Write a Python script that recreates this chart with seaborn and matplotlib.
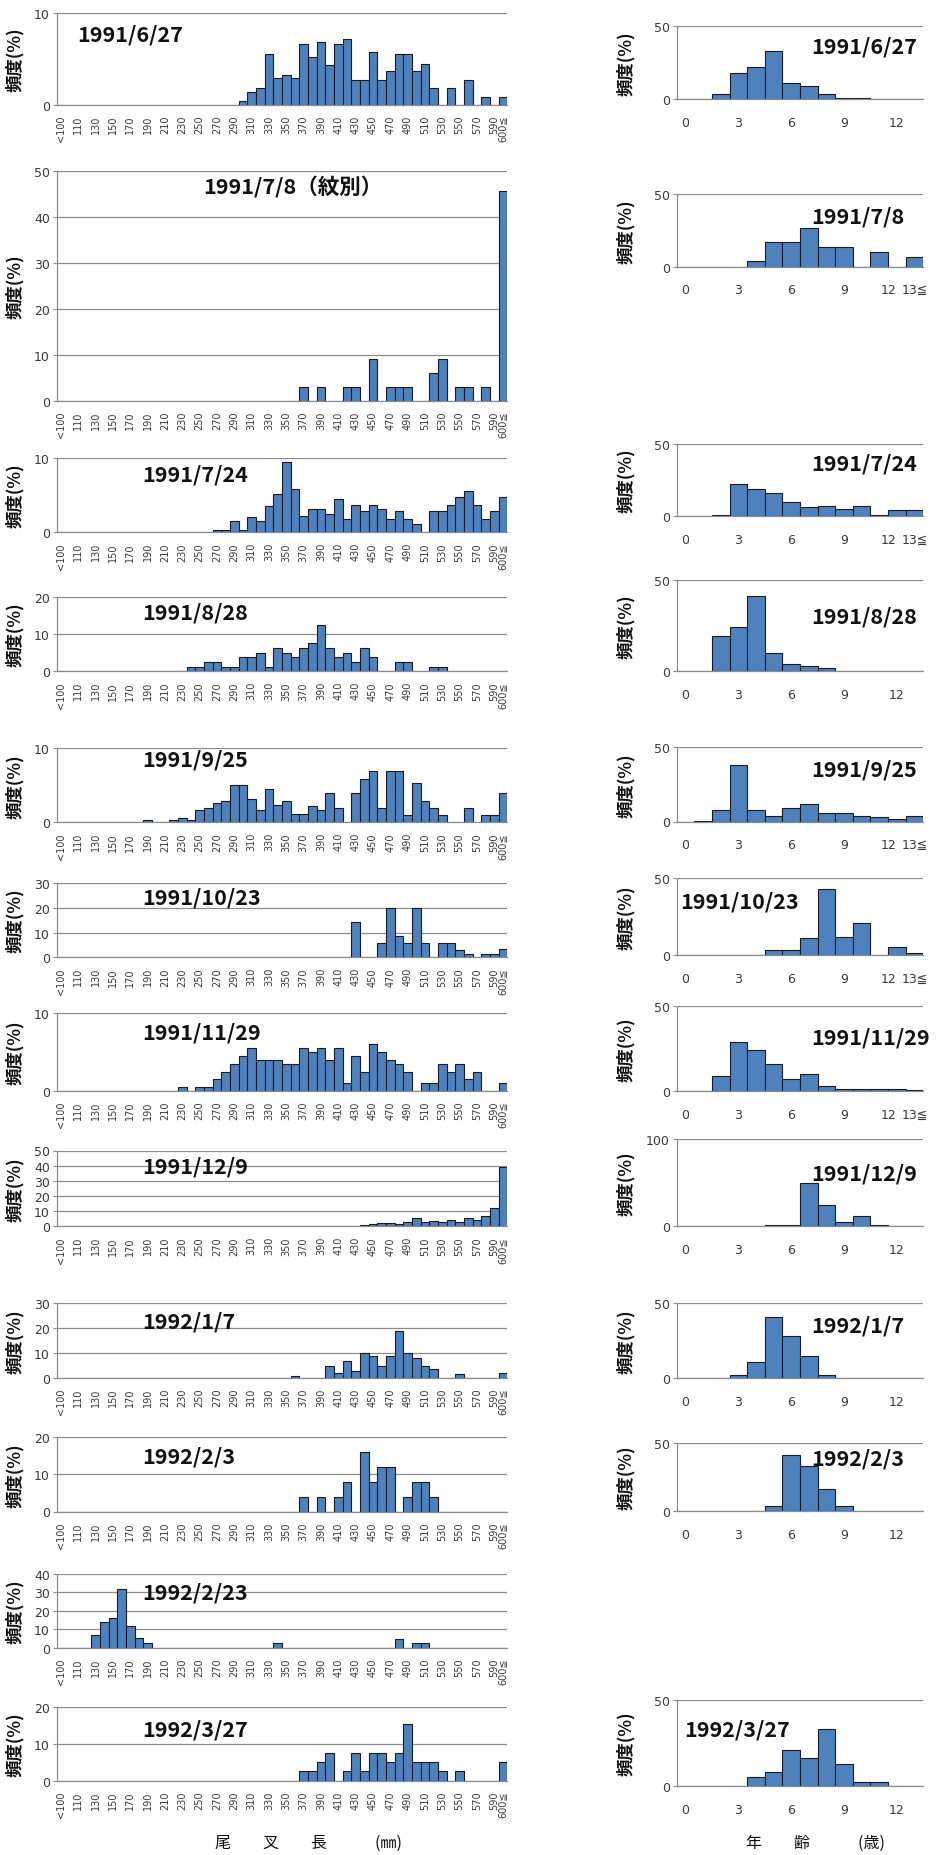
import numpy as np
import pandas as pd
import matplotlib
matplotlib.use("Agg")
import matplotlib.pyplot as plt
import seaborn as sns

# ---------------- categories ----------------
LENGTH_BINS = ["<100", "100", "110", "120", "130", "140", "150", "160", "170", "180",
               "190", "200", "210", "220", "230", "240", "250", "260", "270", "280",
               "290", "300", "310", "320", "330", "340", "350", "360", "370", "380",
               "390", "400", "410", "420", "430", "440", "450", "460", "470", "480",
               "490", "500", "510", "520", "530", "540", "550", "560", "570", "580",
               "590", "600≦"]
AGE_BINS = ["0", "1", "2", "3", "4", "5", "6", "7", "8", "9", "10", "11", "12", "13"]

# ---------------- fork length frequency (%) ----------------
LEN_DATES = ["1991/6/27", "1991/7/8（紋別）", "1991/7/24", "1991/8/28", "1991/9/25",
             "1991/10/23", "1991/11/29", "1991/12/9", "1992/1/7", "1992/2/3",
             "1992/2/23", "1992/3/27"]

LEN_910627 = [0, 0, 0, 0, 0, 0, 0, 0, 0, 0, 0, 0, 0,
              0, 0, 0, 0, 0, 0, 0, 0, 0.4, 1.4, 1.8, 5.5, 2.9,
              3.3, 2.9, 6.6, 5.2, 6.8, 4.3, 6.6, 7.2, 2.7, 2.7, 5.8, 2.7, 3.7,
              5.5, 5.5, 3.7, 4.5, 1.8, 0, 1.8, 0, 2.7, 0, 0.9, 0, 0.9]
LEN_910708 = [0, 0, 0, 0, 0, 0, 0, 0, 0, 0, 0, 0, 0,
              0, 0, 0, 0, 0, 0, 0, 0, 0, 0, 0, 0, 0,
              0, 0, 3.0, 0, 3.0, 0, 0, 3.0, 3.0, 0, 9.1, 0, 3.0,
              3.0, 3.0, 0, 0, 6.1, 9.1, 0, 3.0, 3.0, 0, 3.0, 0, 45.5]
LEN_910724 = [0, 0, 0, 0, 0, 0, 0, 0, 0, 0, 0, 0, 0,
              0, 0, 0, 0, 0, 0.3, 0.3, 1.5, 0.3, 2.0, 1.5, 3.5, 5.2,
              9.5, 5.8, 2.2, 3.2, 3.2, 2.4, 4.5, 1.8, 3.7, 2.8, 3.7, 3.1, 1.8,
              2.8, 1.8, 1.1, 0, 2.8, 2.8, 3.7, 4.7, 5.5, 3.7, 1.8, 2.8, 4.7]
LEN_910828 = [0, 0, 0, 0, 0, 0, 0, 0, 0, 0, 0, 0, 0,
              0, 0, 1.25, 1.25, 2.5, 2.5, 1.25, 1.25, 3.75, 3.75, 5.0, 1.25, 6.25,
              5.0, 3.75, 6.25, 7.5, 12.5, 6.25, 3.75, 5.0, 2.5, 6.25, 3.75, 0, 0,
              2.5, 2.5, 0, 0, 1.25, 1.25, 0, 0, 0, 0, 0, 0, 0]
LEN_910925 = [0, 0, 0, 0, 0, 0, 0, 0, 0, 0, 0.3, 0, 0,
              0.3, 0.6, 0.3, 1.6, 1.9, 2.6, 2.9, 5.0, 5.0, 3.2, 1.6, 4.5, 2.3,
              2.9, 1.1, 1.1, 2.2, 1.6, 4.0, 1.9, 0, 4.0, 5.9, 7.0, 1.9, 7.0,
              7.0, 1.0, 5.3, 2.9, 1.9, 1.0, 0, 0, 1.9, 0, 1.0, 1.0, 3.9]
LEN_911023 = [0, 0, 0, 0, 0, 0, 0, 0, 0, 0, 0, 0, 0,
              0, 0, 0, 0, 0, 0, 0, 0, 0, 0, 0, 0, 0,
              0, 0, 0, 0, 0, 0, 0, 0, 14.3, 0, 0, 5.7, 20.0,
              8.6, 5.7, 20.0, 5.7, 0, 5.7, 5.7, 2.9, 1.4, 0, 1.4, 1.4, 3.4]
LEN_911129 = [0, 0, 0, 0, 0, 0, 0, 0, 0, 0, 0, 0, 0,
              0, 0.5, 0, 0.5, 0.5, 1.5, 2.5, 3.5, 4.5, 5.5, 4.0, 4.0, 4.0,
              3.5, 3.5, 5.5, 5.0, 5.5, 4.0, 5.5, 1.0, 4.5, 2.5, 6.0, 5.0, 4.0,
              3.5, 2.5, 0, 1.0, 1.0, 3.5, 2.5, 3.5, 1.5, 2.5, 0, 0, 1.0]
LEN_911209 = [0, 0, 0, 0, 0, 0, 0, 0, 0, 0, 0, 0, 0,
              0, 0, 0, 0, 0, 0, 0, 0, 0, 0, 0, 0, 0,
              0, 0, 0, 0, 0, 0, 0, 0, 0, 1.0, 1.5, 2.0, 2.5,
              1.5, 3.0, 5.5, 3.0, 3.5, 3.0, 4.0, 3.0, 5.5, 4.0, 6.5, 12.0, 39.0]
LEN_920107 = [0, 0, 0, 0, 0, 0, 0, 0, 0, 0, 0, 0, 0,
              0, 0, 0, 0, 0, 0, 0, 0, 0, 0, 0, 0, 0,
              0, 0.7, 0, 0, 0, 5.0, 2.0, 7.0, 3.0, 10.0, 9.0, 5.0, 9.0,
              19.0, 10.0, 8.0, 5.0, 3.5, 0, 0, 1.5, 0, 0, 0, 0, 2.0]
LEN_920203 = [0, 0, 0, 0, 0, 0, 0, 0, 0, 0, 0, 0, 0,
              0, 0, 0, 0, 0, 0, 0, 0, 0, 0, 0, 0, 0,
              0, 0, 4.0, 0, 4.0, 0, 4.0, 8.0, 0, 16.0, 8.0, 12.0, 12.0,
              0, 4.0, 8.0, 8.0, 4.0, 0, 0, 0, 0, 0, 0, 0, 0]
LEN_920223 = [0, 0, 0, 0, 7.0, 14.0, 16.0, 32.0, 12.0, 5.0, 2.5, 0, 0,
              0, 0, 0, 0, 0, 0, 0, 0, 0, 0, 0, 0, 2.5,
              0, 0, 0, 0, 0, 0, 0, 0, 0, 0, 0, 0, 0,
              4.5, 0, 2.5, 2.5, 0, 0, 0, 0, 0, 0, 0, 0, 0]
LEN_920327 = [0, 0, 0, 0, 0, 0, 0, 0, 0, 0, 0, 0, 0,
              0, 0, 0, 0, 0, 0, 0, 0, 0, 0, 0, 0, 0,
              0, 0, 2.6, 2.6, 5.1, 7.7, 0, 2.6, 7.7, 2.6, 7.7, 7.7, 5.1,
              7.7, 15.4, 5.1, 5.1, 5.1, 2.6, 0, 2.6, 0, 0, 0, 0, 5.1]

LEN_VALUES = [LEN_910627, LEN_910708, LEN_910724, LEN_910828, LEN_910925, LEN_911023,
              LEN_911129, LEN_911209, LEN_920107, LEN_920203, LEN_920223, LEN_920327]
LEN_YMAX = [10, 50, 10, 20, 10, 30, 10, 50, 30, 20, 40, 20]

# ---------------- age frequency (%) ----------------
AGE_DATES = ["1991/6/27", "1991/7/8", "1991/7/24", "1991/8/28", "1991/9/25",
             "1991/10/23", "1991/11/29", "1991/12/9", "1992/1/7", "1992/2/3",
             "1992/3/27"]
AGE_910627 = [0, 0, 3.4, 18.0, 22.0, 32.5, 10.7, 8.6, 3.4, 0.7, 0.7, 0, 0, 0]
AGE_910708 = [0, 0, 0, 0, 3.7, 16.7, 16.7, 26.4, 13.5, 13.5, 0, 10.0, 0, 6.7]
AGE_910724 = [0, 0, 0.5, 22.0, 19.0, 16.0, 10.0, 6.0, 7.0, 5.0, 7.0, 1.0, 4.0, 4.0]
AGE_910828 = [0, 0, 19.0, 24.0, 41.0, 10.0, 4.0, 2.5, 1.5, 0, 0, 0, 0, 0]
AGE_910925 = [0, 0.5, 8.0, 38.0, 8.0, 4.0, 9.0, 12.0, 6.0, 6.0, 4.0, 3.0, 2.0, 4.0]
AGE_911023 = [0, 0, 0, 0, 0, 3.0, 3.0, 11.0, 43.0, 12.0, 21.0, 0, 5.0, 1.5]
AGE_911129 = [0, 0, 9.0, 29.0, 24.0, 16.0, 7.0, 10.0, 3.0, 1.0, 1.0, 1.0, 1.0, 0.5]
AGE_911209 = [0, 0, 0, 0, 0, 1.0, 1.0, 50.0, 24.0, 5.0, 12.0, 1.0, 0, 0]
AGE_920107 = [0, 0, 0, 2.0, 11.0, 41.0, 28.0, 15.0, 2.0, 0, 0, 0, 0, 0]
AGE_920203 = [0, 0, 0, 0, 0, 4.0, 41.0, 33.0, 16.0, 4.0, 0, 0, 0, 0]
AGE_920327 = [0, 0, 0, 0, 5.0, 8.0, 21.0, 16.0, 33.0, 13.0, 2.5, 2.5, 0, 0]

AGE_VALUES = [AGE_910627, AGE_910708, AGE_910724, AGE_910828, AGE_910925, AGE_911023,
              AGE_911129, AGE_911209, AGE_920107, AGE_920203, AGE_920327]
AGE_YMAX = [50, 50, 50, 50, 50, 50, 50, 100, 50, 50, 50]
AGE_PLUS_LABEL = [False, True, True, False, True, True, True, False, False, False, False]

# ---------------- layout (pixels) ----------------
W, H = 937, 1856
LEFT_X = (56.7, 507.3)
RIGHT_X = (676.7, 923.3)
LEFT_ROWS = [(14, 106), (171.7, 401.7), (459, 533.3), (597.7, 672.3), (749.3, 823.3),
             (884, 958.3), (1014, 1092), (1151.5, 1227.3), (1304, 1379), (1438, 1512.5),
             (1575, 1648.6), (1708, 1782)]
LEFT_TITLE_POS = [(0.045, 0.77), (0.325, 0.93), (0.19, 0.78), (0.19, 0.79), (0.19, 0.855),
                  (0.19, 0.81), (0.19, 0.76), (0.19, 0.80), (0.19, 0.76), (0.19, 0.75),
                  (0.19, 0.75), (0.19, 0.70)]
RIGHT_ROWS = [(26.7, 100), (195, 267.7), (445, 517), (581, 672), (748, 822.5), (879, 956),
              (1007, 1092), (1140, 1227), (1304, 1379), (1444, 1512), (1701, 1787)]
RIGHT_TITLE_POS = [(0.545, 0.72), (0.545, 0.70), (0.545, 0.74), (0.545, 0.60), (0.545, 0.70),
                   (0.013, 0.70), (0.545, 0.64), (0.545, 0.61), (0.545, 0.71), (0.545, 0.78),
                   (0.03, 0.66)]

BAR_COLOR = "#4F81BD"
BAR_EDGE = "#141C2C"
GRID = "#8C8C8C"
TICK_TXT = "#3A3A3A"
JP = ["Noto Sans CJK JP", "DejaVu Sans"]

sns.set_theme(style="white")
plt.rcParams["font.family"] = ["DejaVu Sans", "Noto Sans CJK JP"]

fig = plt.figure(figsize=(W / 100, H / 100), dpi=100)


def add_axes_px(xr, yr):
    x0, x1 = xr
    y0, y1 = yr
    return fig.add_axes([x0 / W, 1 - y1 / H, (x1 - x0) / W, (y1 - y0) / H])


def style_axes(ax, ymax, yticks, n):
    ax.set_xlim(-0.5, n - 0.5)
    ax.set_ylim(0, ymax)
    ax.set_yticks(yticks)
    ax.set_axisbelow(True)
    ax.yaxis.grid(True, color=GRID, linewidth=0.9)
    ax.xaxis.grid(False)
    for side in ("top", "right"):
        ax.spines[side].set_visible(False)
    for side in ("left", "bottom"):
        ax.spines[side].set_color(GRID)
        ax.spines[side].set_linewidth(0.9)
    ax.set_xticks(np.arange(-0.5, n, 1.0), minor=True)
    ax.tick_params(axis="x", which="minor", length=3.5, width=0.8, color=GRID, direction="out")
    ax.tick_params(axis="y", which="major", length=3, width=0.8, color=GRID, left=True,
                   labelsize=9, labelcolor=TICK_TXT, pad=2)
    ax.set_xlabel("")


def bars(ax, cats, vals):
    df = pd.DataFrame({"cls": cats, "pct": vals})
    sns.barplot(data=df, x="cls", y="pct", order=cats, ax=ax, width=1.0,
                color=BAR_COLOR, saturation=1, edgecolor=BAR_EDGE, linewidth=0.8,
                errorbar=None)
    for p in ax.patches:
        if p.get_height() == 0:
            p.set_visible(False)


def freq_label(ax, xpos):
    ax.set_ylabel("頻度(%)", family=JP, fontsize=12.5, fontweight="bold", color="#111111")
    ax.yaxis.set_label_coords(xpos, 0.5)


# ---- fork length panels ----
len_ticklabels = [b if (i % 2 == 0 or i == len(LENGTH_BINS) - 1) else ""
                  for i, b in enumerate(LENGTH_BINS)]
for k, (title, vals, ymax) in enumerate(zip(LEN_DATES, LEN_VALUES, LEN_YMAX)):
    ax = add_axes_px(LEFT_X, LEFT_ROWS[k])
    bars(ax, LENGTH_BINS, vals)
    style_axes(ax, ymax, np.arange(0, ymax + 1, 10), len(LENGTH_BINS))
    ax.set_xticks(np.arange(len(LENGTH_BINS)))
    ax.set_xticklabels(len_ticklabels, rotation=90, fontsize=7, color=TICK_TXT)
    ax.tick_params(axis="x", which="major", length=0, pad=7)
    freq_label(ax, -0.072)
    tx, ty = LEFT_TITLE_POS[k]
    ax.text(tx, ty, title, transform=ax.transAxes, family=JP, fontsize=15.5,
            fontweight="bold", color="#111111", ha="left", va="center")

# ---- age panels ----
for k, (title, vals, ymax) in enumerate(zip(AGE_DATES, AGE_VALUES, AGE_YMAX)):
    ax = add_axes_px(RIGHT_X, RIGHT_ROWS[k])
    bars(ax, AGE_BINS, vals)
    style_axes(ax, ymax, [0, ymax], len(AGE_BINS))
    labels = [a if i % 3 == 0 else "" for i, a in enumerate(AGE_BINS)]
    if AGE_PLUS_LABEL[k]:
        labels[-1] = AGE_BINS[-1] + "≦"
    ax.set_xticks(np.arange(len(AGE_BINS)))
    ax.set_xticklabels(labels, fontsize=9, color=TICK_TXT)
    ax.tick_params(axis="x", which="major", length=0, pad=12)
    if AGE_PLUS_LABEL[k]:
        tl = ax.get_xticklabels()
        tl[12].set_ha("right")
        tl[13].set_ha("center")
    freq_label(ax, -0.17)
    tx, ty = RIGHT_TITLE_POS[k]
    ax.text(tx, ty, title, transform=ax.transAxes, family=JP, fontsize=15.5,
            fontweight="bold", color="#111111", ha="left", va="center")

# ---- axis captions ----
fig.text(309 / W, 1 - 1843 / H, "尾　　叉　　長　　　(㎜)", family=JP, fontsize=11.5,
         ha="center", va="center", color="#111111")
fig.text(816 / W, 1 - 1843 / H, "年　　齢　　　(歳)", family=JP, fontsize=11.5,
         ha="center", va="center", color="#111111")

fig.savefig("out.png", dpi=100, facecolor="white")
